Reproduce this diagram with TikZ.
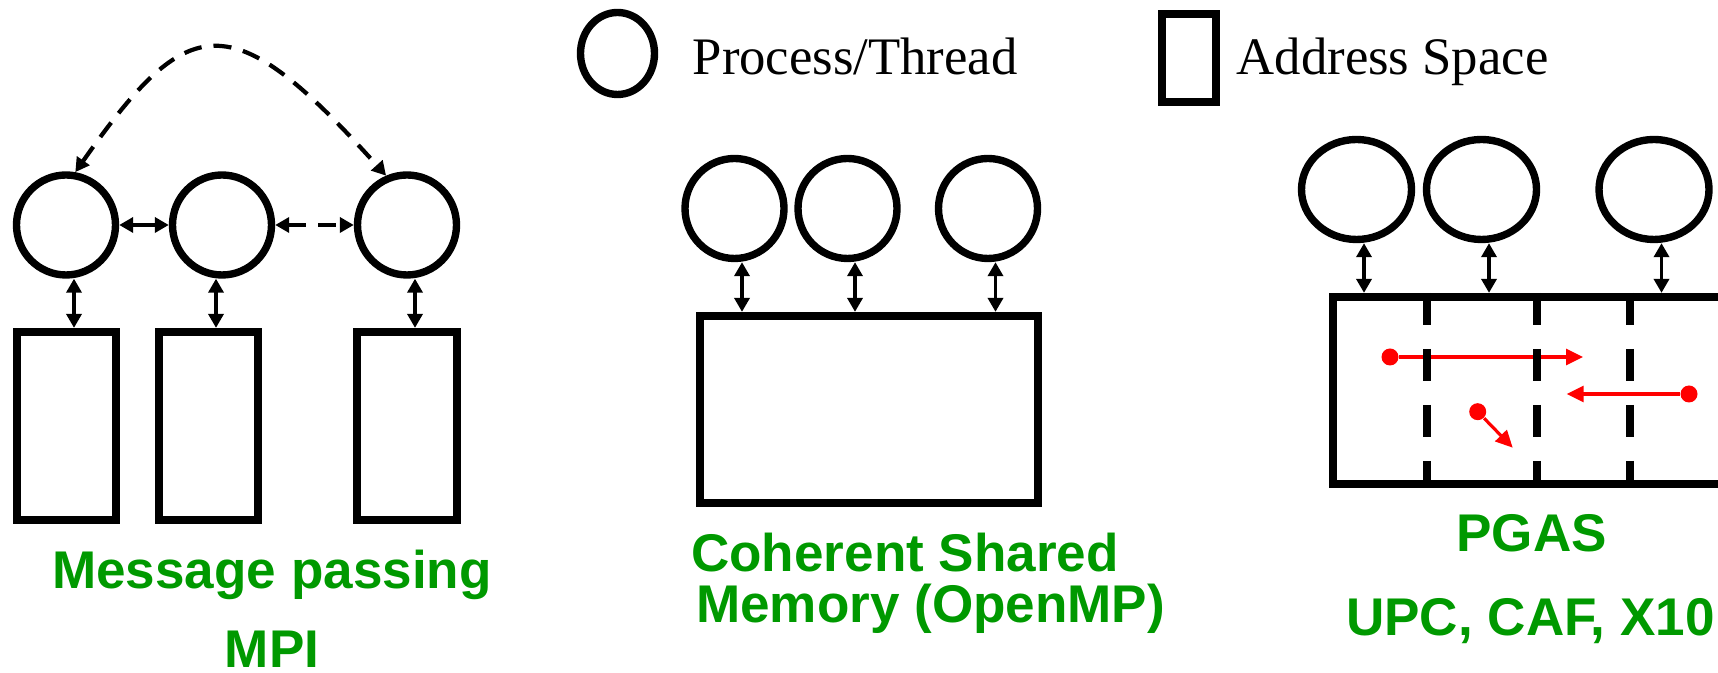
\documentclass[tikz,border=0pt]{standalone}
\usepackage{fontspec}
\setmainfont{Liberation Serif}
\newfontfamily\modelfont{Liberation Sans}
\usetikzlibrary{arrows.meta,shapes.geometric,calc}
\definecolor{modelgreen}{RGB}{0,153,0}
\tikzset{
  proc/.style={draw, ellipse, line width=2.1pt, inner sep=0pt, minimum width=0.99cm, minimum height=1cm},
  wproc/.style={proc, minimum width=1.1cm},
  aspace/.style={draw, rectangle, line width=2.2pt, inner sep=0pt},
  mspace/.style={aspace, minimum width=0.995cm, minimum height=1.885cm},
  dub/.style={line width=1pt, {Triangle[length=0.14cm,width=0.15cm]}-{Triangle[length=0.14cm,width=0.15cm]}},
  dashlink/.style={dub, line width=1.2pt, dash pattern=on 0.18cm off 0.12cm},
  divider/.style={line width=2.1pt, dash pattern=on 0.32cm off 0.24cm},
  msg/.style={red, line width=0.9pt, -{Triangle[length=0.17cm,width=0.16cm]}},
  dot/.style={circle, fill=red, inner sep=0pt, minimum size=0.17cm},
  model/.style={font=\modelfont\bfseries\fontsize{15.1pt}{18pt}\selectfont, text=modelgreen, inner sep=0pt},
  legend/.style={font=\fontsize{15pt}{18pt}\selectfont, inner sep=0pt}
}
\begin{document}
\begin{tikzpicture}
\useasboundingbox (0,0) rectangle (17.18,6.73);
\clip (0,0) rectangle (17.18,6.73);

% legend
\node [proc, minimum width=0.74cm, minimum height=0.82cm] (lproc) at (6.175,6.195) {};
\node [legend, anchor=base west] (lproctext) at (6.92,5.98) {Process/Thread};
\node [aspace, minimum width=0.54cm, minimum height=0.88cm] (lspace) at (11.89,6.15) {};
\node [legend, anchor=base west] (lspacetext) at (12.36,5.98) {Address Space};

% message passing
\node [proc] (mp1) at (0.66,4.48) {};
\node [proc] (mp2) at (2.22,4.48) {};
\node [proc] (mp3) at (4.07,4.48) {};
\node [mspace] (ms1) at (0.665,2.47) {};
\node [mspace] (ms2) at (2.085,2.47) {};
\node [mspace] (ms3) at (4.07,2.47) {};
\draw [dub] (mp1) -- (mp2);
\draw [dashlink] (mp2) -- (mp3);
\draw [dashlink] (mp1.80) .. controls (1.89,6.63) and (2.31,6.70) .. (mp3.113);
\foreach \i/\s in {1/0.08,2/-0.06,3/0.08}
  \draw [dub] ([xshift=\s cm]mp\i.south) -- ([xshift=\s cm]mp\i.south |- ms\i.north);
\node [model, anchor=base] (mplabel) at (2.72,0.84) {Message passing};
\node [model, anchor=base] (mpilabel) at (2.72,0.05) {MPI};

% coherent shared memory
\node [proc] (sp1) at (7.345,4.645) {};
\node [proc] (sp2) at (8.475,4.645) {};
\node [proc] (sp3) at (9.88,4.645) {};
\node [aspace, minimum width=3.385cm, minimum height=1.875cm] (sm) at (8.69,2.635) {};
\foreach \i in {1,2,3}
  \draw [dub] ([xshift=0.075cm]sp\i.south) -- ([xshift=0.075cm]sp\i.south |- sm.north);
\node [model, anchor=base west] (smlabel) at (6.905,1.01) {Coherent Shared};
\node [model, anchor=base west] (omplabel) at (6.955,0.50) {Memory (OpenMP)};

% pgas
\node [wproc] (pp1) at (13.565,4.835) {};
\node [wproc] (pp2) at (14.815,4.835) {};
\node [wproc] (pp3) at (16.54,4.835) {};
\node [aspace, minimum width=4.6725cm, minimum height=1.875cm] (pm) at (15.664,2.825) {};
\foreach \i in {1,2,3}
  \draw [dub] ([xshift=0.075cm]pp\i.south) -- ([xshift=0.075cm]pp\i.south |- pm.north);
\node [dot] (d1) at (13.90,3.16) {};
\coordinate (t1) at (15.83,3.16);
\node [dot] (d2) at (16.89,2.79) {};
\coordinate (t2) at (15.667,2.79);
\node [dot] (d3) at (14.777,2.613) {};
\coordinate (t3) at (15.127,2.253);
\draw [msg] (d1) -- (t1);
\draw [msg] (d2) -- (t2);
\draw [msg] (d3) -- (t3);
\foreach \x in {14.27,15.37,16.30}
  \draw [divider] (\x,0 |- pm.north) -- (\x,0 |- pm.south);
\node [model, anchor=base] (pglabel) at (15.315,1.21) {PGAS};
\node [model, anchor=base] (upclabel) at (15.305,0.37) {UPC, CAF, X10};
\end{tikzpicture}
\end{document}
